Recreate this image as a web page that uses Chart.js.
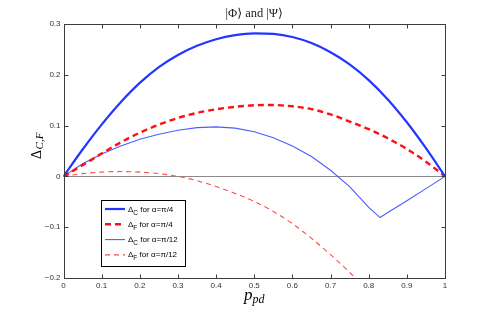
<!DOCTYPE html>
<html>
<head>
<meta charset="utf-8">
<script src="https://cdn.jsdelivr.net/npm/chart.js@4.4.0/dist/chart.umd.min.js"></script>
<style>
  body { margin: 0; background: #fff; }
  #chart { display: block; }
</style>
</head>
<body>
<canvas id="chart" width="491" height="313"></canvas>
<script>
// values
const pGrid = [0, 0.05, 0.1, 0.15, 0.2, 0.25, 0.3, 0.35, 0.4, 0.45, 0.5,
  0.55, 0.6, 0.65, 0.7, 0.75, 0.8, 0.85, 0.9, 0.95, 1];
const deltaC_pi4 = [0, 0.053, 0.102, 0.146, 0.184, 0.215, 0.239, 0.257, 0.270, 0.278, 0.2815,
  0.2805, 0.2745, 0.2625, 0.2445, 0.2205, 0.1895, 0.1515, 0.1065, 0.0555, 0];
const deltaF_pi4 = [0, 0.022, 0.045, 0.067, 0.086, 0.102, 0.115, 0.125, 0.132, 0.137, 0.140,
  0.1405, 0.138, 0.1325, 0.122, 0.108, 0.093, 0.075, 0.054, 0.029, 0];
// pi/12 Delta_C has a kink near p=0.83
const pGridC12 = [0, 0.05, 0.1, 0.15, 0.2, 0.25, 0.3, 0.35, 0.4, 0.45, 0.5,
  0.55, 0.6, 0.65, 0.7, 0.75, 0.8, 0.83, 0.85, 0.9, 0.95, 1];
const deltaC_pi12 = [0, 0.025, 0.044, 0.060, 0.073, 0.083, 0.091, 0.096, 0.0975, 0.095, 0.088,
  0.076, 0.060, 0.039, 0.012, -0.020, -0.061, -0.081, -0.071, -0.048, -0.024, 0];
// pi/12 Delta_F leaves the plot below -0.2
const pGridF12 = [0, 0.05, 0.1, 0.15, 0.2, 0.25, 0.3, 0.35, 0.4, 0.45, 0.5,
  0.55, 0.6, 0.65, 0.7, 0.75, 0.8];
const deltaF_pi12 = [0, 0.0055, 0.0085, 0.0095, 0.0085, 0.0055, 0, -0.0085, -0.020, -0.0335, -0.0495,
  -0.069, -0.093, -0.122, -0.154, -0.189, -0.227];

const xTickValues = [0, 0.1, 0.2, 0.3, 0.4, 0.5, 0.6, 0.7, 0.8, 0.9, 1];
const xTickLabels = ["0", "0.1", "0.2", "0.3", "0.4", "0.5", "0.6", "0.7", "0.8", "0.9", "1"];
const yTickValues = [-0.2, -0.1, 0, 0.1, 0.2, 0.3];
const yTickLabels = ["\u22120.2", "\u22120.1", "0", "0.1", "0.2", "0.3"];

const legendSubs = ["C", "F", "C", "F"];
const legendAlphas = ["\u03c0/4", "\u03c0/4", "\u03c0/12", "\u03c0/12"];

const toPoints = (xs, ys) => xs.map((x, i) => ({ x: x, y: ys[i] }));

const styles = [
  { color: "#2236ff", width: 2.2, dash: [], smooth: true },
  { color: "#ff1010", width: 2.4, dash: [6, 4], smooth: true },
  { color: "#4a5eff", width: 1.1, dash: [], smooth: false },
  { color: "#ff4a4a", width: 1.1, dash: [5, 4], smooth: true },
];
const series = [
  toPoints(pGrid, deltaC_pi4),
  toPoints(pGrid, deltaF_pi4),
  toPoints(pGridC12, deltaC_pi12),
  toPoints(pGridF12, deltaF_pi12),
];

const datasets = series.map((pts, i) => ({
  label: "\u0394" + legendSubs[i] + " for \u03b1=" + legendAlphas[i],
  data: pts,
  borderColor: styles[i].color,
  borderWidth: styles[i].width,
  borderDash: styles[i].dash,
  pointRadius: 0,
  tension: styles[i].smooth ? 0.4 : 0,
  cubicInterpolationMode: styles[i].smooth ? "monotone" : "default",
  fill: false,
}));

const frameColor = "#3c3c3c";

// zero line, box, inward ticks, legend, title and axis labels
const decorations = {
  id: "decorations",
  beforeDatasetsDraw(chart) {
    const { ctx, chartArea: a, scales } = chart;
    const y0 = Math.round(scales.y.getPixelForValue(0)) + 0.5;
    ctx.save();
    ctx.strokeStyle = "#8a8a8a";
    ctx.lineWidth = 1;
    ctx.beginPath();
    ctx.moveTo(a.left, y0);
    ctx.lineTo(a.right, y0);
    ctx.stroke();
    ctx.restore();
  },
  afterDatasetsDraw(chart) {
    const { ctx, chartArea: a, scales } = chart;
    const L = Math.round(a.left) + 0.5, R = Math.round(a.right) + 0.5;
    const T = Math.round(a.top) + 0.5, B = Math.round(a.bottom) + 0.5;
    ctx.save();
    ctx.strokeStyle = frameColor;
    ctx.lineWidth = 1;
    ctx.strokeRect(L, T, R - L, B - T);
    ctx.beginPath();
    xTickValues.forEach((v) => {
      const px = Math.round(scales.x.getPixelForValue(v)) + 0.5;
      ctx.moveTo(px, B); ctx.lineTo(px, B - 4);
      ctx.moveTo(px, T); ctx.lineTo(px, T + 4);
    });
    yTickValues.forEach((v) => {
      const py = Math.round(scales.y.getPixelForValue(v)) + 0.5;
      ctx.moveTo(L, py); ctx.lineTo(L + 4, py);
      ctx.moveTo(R, py); ctx.lineTo(R - 4, py);
    });
    ctx.stroke();

    // legend box
    const bx = 101.5, by = 200.5, bw = 84, bh = 66;
    ctx.fillStyle = "#fff";
    ctx.fillRect(bx, by, bw, bh);
    ctx.strokeStyle = "#000";
    ctx.strokeRect(bx, by, bw, bh);
    chart.data.datasets.forEach((ds, i) => {
      const ry = 209 + i * 15.3;
      ctx.strokeStyle = ds.borderColor;
      ctx.lineWidth = ds.borderWidth;
      ctx.setLineDash(ds.borderDash);
      ctx.beginPath();
      ctx.moveTo(105, ry);
      ctx.lineTo(125, ry);
      ctx.stroke();
      ctx.setLineDash([]);
      ctx.fillStyle = "#000";
      ctx.textBaseline = "alphabetic";
      ctx.textAlign = "left";
      ctx.font = "8px 'Liberation Sans', Arial, sans-serif";
      let tx = 128;
      ctx.fillText("\u0394", tx, ry + 2.5);
      tx += ctx.measureText("\u0394").width;
      ctx.font = "6.5px 'Liberation Sans', Arial, sans-serif";
      ctx.fillText(legendSubs[i], tx, ry + 5.5);
      tx += ctx.measureText(legendSubs[i]).width;
      ctx.font = "8px 'Liberation Sans', Arial, sans-serif";
      ctx.fillText(" for \u03b1=" + legendAlphas[i], tx, ry + 2.5);
    });
    ctx.restore();
  },
  afterDraw(chart) {
    const { ctx, chartArea: a } = chart;
    const cx = (a.left + a.right) / 2;
    ctx.save();
    ctx.fillStyle = "#222";
    ctx.textBaseline = "alphabetic";
    // title
    ctx.font = "12.5px 'Liberation Serif', 'DejaVu Serif', serif";
    ctx.textAlign = "center";
    ctx.fillText("|\u03a6\u27e9 and |\u03a8\u27e9", cx, 17);

    // x axis label p_pd
    ctx.fillStyle = "#000";
    ctx.textAlign = "left";
    ctx.font = "italic 17px 'Liberation Serif', 'DejaVu Serif', serif";
    const wp = ctx.measureText("p").width;
    ctx.font = "italic 12px 'Liberation Serif', 'DejaVu Serif', serif";
    const wpd = ctx.measureText("pd").width;
    const sx = cx - (wp + wpd) / 2;
    ctx.font = "italic 17px 'Liberation Serif', 'DejaVu Serif', serif";
    ctx.fillText("p", sx, 300);
    ctx.font = "italic 12px 'Liberation Serif', 'DejaVu Serif', serif";
    ctx.fillText("pd", sx + wp, 303);

    // y axis label Delta_{C,F}
    ctx.translate(40.5, 146);
    ctx.rotate(-Math.PI / 2);
    ctx.font = "14px 'Liberation Serif', 'DejaVu Serif', serif";
    const wd = ctx.measureText("\u0394").width;
    ctx.font = "italic 11px 'Liberation Serif', 'DejaVu Serif', serif";
    const wcf = ctx.measureText("C,F").width;
    const sy = -(wd + wcf) / 2;
    ctx.font = "14px 'Liberation Serif', 'DejaVu Serif', serif";
    ctx.fillText("\u0394", sy, 0);
    ctx.font = "italic 11px 'Liberation Serif', 'DejaVu Serif', serif";
    ctx.fillText("C,F", sy + wd + 0.5, 2.5);
    ctx.restore();
  },
};

const tickFont = { family: "'Liberation Sans', Arial, sans-serif", size: 8 };

new Chart(document.getElementById("chart"), {
  type: "line",
  data: { datasets: datasets },
  options: {
    responsive: false,
    animation: false,
    devicePixelRatio: 1,
    layout: { padding: { top: 24, right: 46, left: 0, bottom: 0 } },
    plugins: {
      legend: { display: false },
      title: { display: false },
      tooltip: { enabled: false },
    },
    scales: {
      x: {
        type: "linear",
        min: 0,
        max: 1,
        afterBuildTicks: (scale) => {
          scale.ticks = xTickValues.map((v) => ({ value: v }));
        },
        afterFit: (scale) => { scale.height = 35; },
        ticks: {
          autoSkip: false,
          maxRotation: 0,
          padding: 3,
          color: "#333",
          font: tickFont,
          callback: (v, i) => xTickLabels[i],
        },
        grid: { display: false, drawTicks: false },
        border: { display: false },
      },
      y: {
        type: "linear",
        min: -0.2,
        max: 0.3,
        afterBuildTicks: (scale) => {
          scale.ticks = yTickValues.map((v) => ({ value: v }));
        },
        afterFit: (scale) => { scale.width = 63.5; },
        ticks: {
          autoSkip: false,
          padding: 3,
          color: "#333",
          font: tickFont,
          callback: (v, i) => yTickLabels[i],
        },
        grid: { display: false, drawTicks: false },
        border: { display: false },
      },
    },
  },
  plugins: [decorations],
});
</script>
</body>
</html>
